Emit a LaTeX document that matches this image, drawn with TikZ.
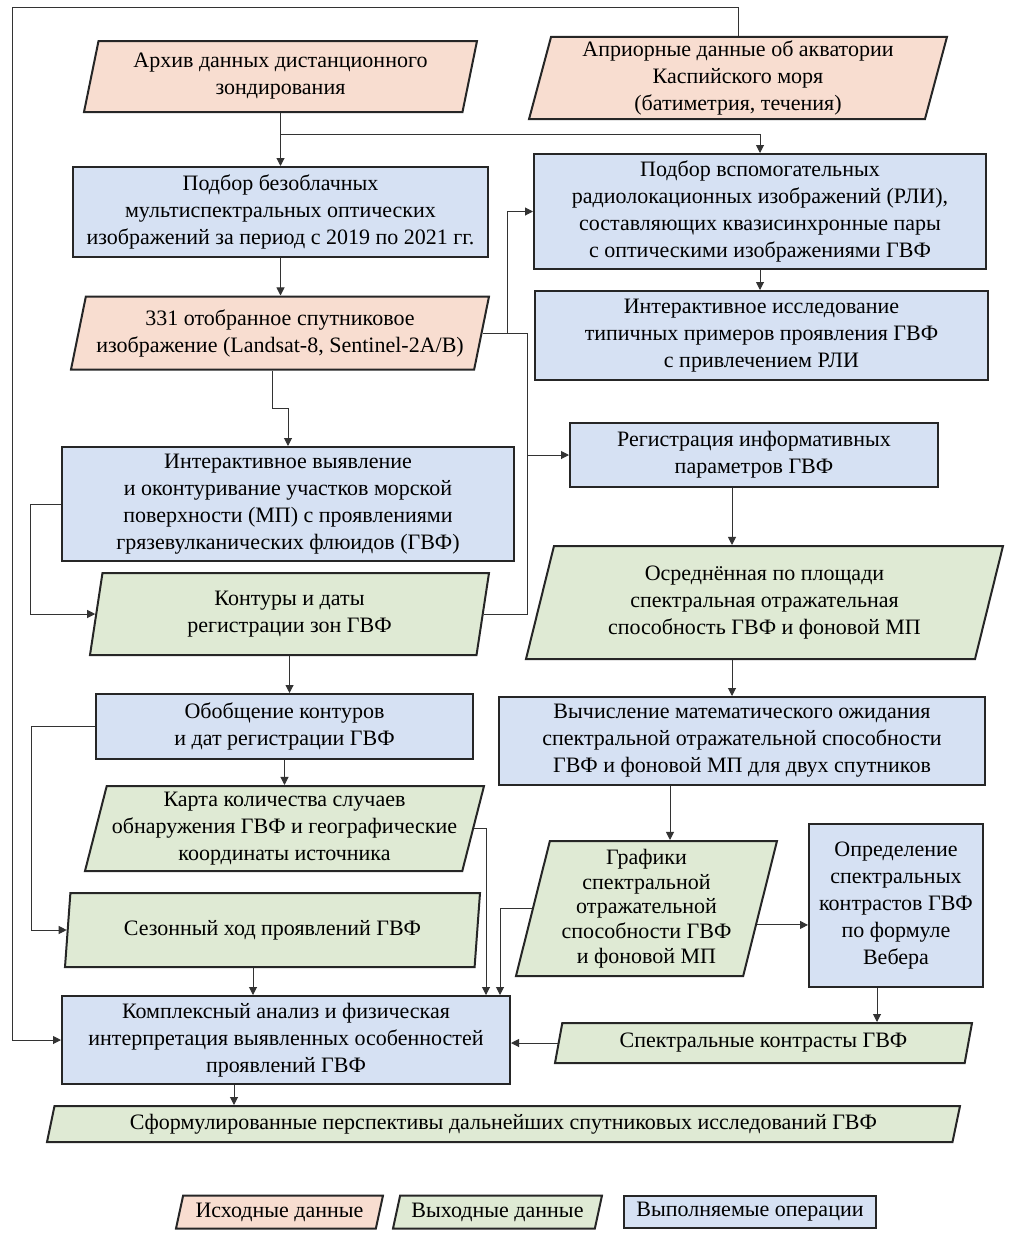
\documentclass[tikz,border=0pt]{standalone}
\usepackage{fontspec}
\setmainfont{Liberation Serif}
\usetikzlibrary{arrows.meta, positioning, shapes.geometric, calc}
\definecolor{srcfill}{RGB}{248,221,208}
\definecolor{outfill}{RGB}{223,234,212}
\definecolor{opfill}{RGB}{214,225,243}
\tikzset{%
	box/.style={draw=black!85, line width=1pt, align=center, inner sep=2pt,
		font=\fontsize{11}{13.5}\selectfont},
	op/.style={box, rectangle, fill=opfill},
	para/.style={box, trapezium, trapezium left angle=75, trapezium right angle=105,
		trapezium stretches body},
	src/.style={para, fill=srcfill},
	res/.style={para, fill=outfill},
	link/.style={draw=black!80, line width=0.5pt},
	arr/.style={link, -{Triangle[length=4pt,width=4pt]}}
}

\begin{document}
\begin{tikzpicture}[x=0.5pt, y=-0.5pt]
	\useasboundingbox (0,0) rectangle (1022,1248);

	% source data
	\node[src, minimum width=196.5pt, minimum height=35.5pt] (arch) at (280.5,76.5)
		{Архив данных дистанционного\\зондирования};
	\node[src, minimum width=209pt, minimum height=37pt] (apr) at (738,78)
		{Априорные данные об акватории\\Каспийского моря\\(батиметрия, течения)};
	\node[src, minimum width=209pt, minimum height=36.5pt] (s331) at (280,333)
		{331 отобранное спутниковое\\изображение (Landsat-8, Sentinel-2A/B)};

	% operations
	\node[op, minimum width=207.5pt, minimum height=45pt] (sel) at (280.5,212)
		{Подбор безоблачных\\мультиспектральных оптических\\изображений за период с 2019 по 2021 гг.};
	\node[op, minimum width=226pt, minimum height=57.5pt] (rli) at (760,211.5)
		{Подбор вспомогательных\\радиолокационных изображений (РЛИ),\\составляющих квазисинхронные пары\\с оптическими изображениями ГВФ};
	\node[op, minimum width=226.5pt, minimum height=44.5pt] (issl) at (761.5,335.5)
		{Интерактивное исследование\\типичных примеров проявления ГВФ\\с привлечением РЛИ};
	\node[op, minimum width=226pt, minimum height=57pt] (detect) at (288,504)
		{Интерактивное выявление\\и оконтуривание участков морской\\поверхности (МП) с проявлениями\\грязевулканических флюидов (ГВФ)};
	\node[op, minimum width=184pt, minimum height=32pt] (reg) at (754,455)
		{Регистрация информативных\\параметров ГВФ};
	\node[op, minimum width=188.5pt, minimum height=32.5pt] (obob) at (284.5,726.5)
		{Обобщение контуров\\и дат регистрации ГВФ};
	\node[op, minimum width=243pt, minimum height=44pt] (vych) at (742,741)
		{Вычисление математического ожидания\\спектральной отражательной способности\\ГВФ и фоновой МП для двух спутников};
	\node[op, minimum width=87pt, minimum height=81.5pt] (opred) at (896,905.5)
		{Определение\\спектральных\\контрастов ГВФ\\по формуле\\Вебера};
	\node[op, minimum width=224pt, minimum height=44pt] (kompl) at (286,1040)
		{Комплексный анализ и физическая\\интерпретация выявленных особенностей\\проявлений ГВФ};

	% output data
	\node[res, trapezium left angle=77, trapezium right angle=103,
		minimum width=199.5pt, minimum height=41pt] (kont) at (289.5,614)
		{Контуры и даты\\регистрации зон ГВФ};
	\node[res, trapezium left angle=71, trapezium right angle=109,
		minimum width=238.5pt, minimum height=56.5pt] (osr) at (764.5,602.5)
		{Осреднённая по площади\\спектральная отражательная\\способность ГВФ и фоновой МП};
	\node[res, minimum width=199.5pt, minimum height=42.5pt] (karta) at (284.5,828.5)
		{Карта количества случаев\\обнаружения ГВФ и географические\\координаты источника};
	\node[res, font=\fontsize{11}{12.3}\selectfont,
		minimum width=130.5pt, minimum height=67.5pt] (graf) at (646.5,908.5)
		{Графики\\спектральной\\отражательной\\способности ГВФ\\и фоновой МП};
	\node[res, trapezium left angle=79, trapezium right angle=101,
		minimum width=207.5pt, minimum height=37pt] (sez) at (272.5,930)
		{Сезонный ход проявлений ГВФ};
	\node[res, minimum width=208.5pt, minimum height=20pt] (spk) at (763.5,1043)
		{Спектральные контрасты ГВФ};
	\node[res, minimum width=456.5pt, minimum height=18pt] (form) at (503.5,1124)
		{Сформулированные перспективы дальнейших спутниковых исследований ГВФ};

	% legend
	\node[src, minimum width=103.5pt, minimum height=16.5pt] (legsrc) at (279.5,1212) {Исходные данные};
	\node[res, minimum width=104.5pt, minimum height=16.5pt] (legres) at (497.5,1212) {Выходные данные};
	\node[op, minimum width=126pt, minimum height=16pt] (legop) at (750,1212) {Выполняемые операции};

	% left column
	\draw[arr] (sel.north |- arch.south) -- (sel.north);
	\draw[arr] (sel.north |- 0,134) -| (rli.north);
	\draw[arr] (sel.south) -- (sel.south |- s331.north);
	\draw[arr] ([xshift=-4pt]s331.south) -- ++(0,38) -| (detect.north);
	\draw[arr] (detect.west) -- ++(-31,0) |- (kont.west);
	\draw[arr] (kont.south) -- (kont.south |- obob.north);
	\draw[arr] (obob.south) -- (obob.south |- karta.north);
	\draw[arr] (obob.west) -- ++(-64,0) |- (sez.west);
	\draw[arr] (sez.south -| 253,0) -- (kompl.north -| 253,0);
	\draw[arr] (karta.east) -| (kompl.north -| 486,0);
	\draw[arr] (graf.west) -| (kompl.north -| 500,0);
	\draw[arr] (kompl.south -| 234,0) -- (form.north -| 234,0);

	% links across the middle
	\coordinate (jA) at (s331.east -| 507,0);
	\coordinate (jB) at (s331.east -| 527,0);
	\draw[link] (s331.east) -- (jB) -- (jB |- kont.east) -- (kont.east);
	\draw[arr] (jA) |- (rli.west);
	\draw[arr] (jB |- reg.west) -- (reg.west);

	% right column
	\draw[arr] (rli.south) -- (rli.south |- issl.north);
	\draw[arr] (reg.south -| 732,0) -- (osr.north -| 732,0);
	\draw[arr] (osr.south -| 732,0) -- (vych.north -| 732,0);
	\draw[arr] (vych.south -| 670,0) -- (graf.north -| 670,0);
	\coordinate (g1) at ($(graf.bottom right corner)!0.38!(graf.top right corner)$);
	\draw[arr] (g1) -- (g1 -| opred.west);
	\draw[arr] (opred.south -| 877,0) -- (spk.north -| 877,0);
	\draw[arr] (spk.west) -- (spk.west -| kompl.east);

	% a priori data feed the analysis
	\draw[arr] (apr.north) |- (12,7) |- (kompl.west);
\end{tikzpicture}
\end{document}
